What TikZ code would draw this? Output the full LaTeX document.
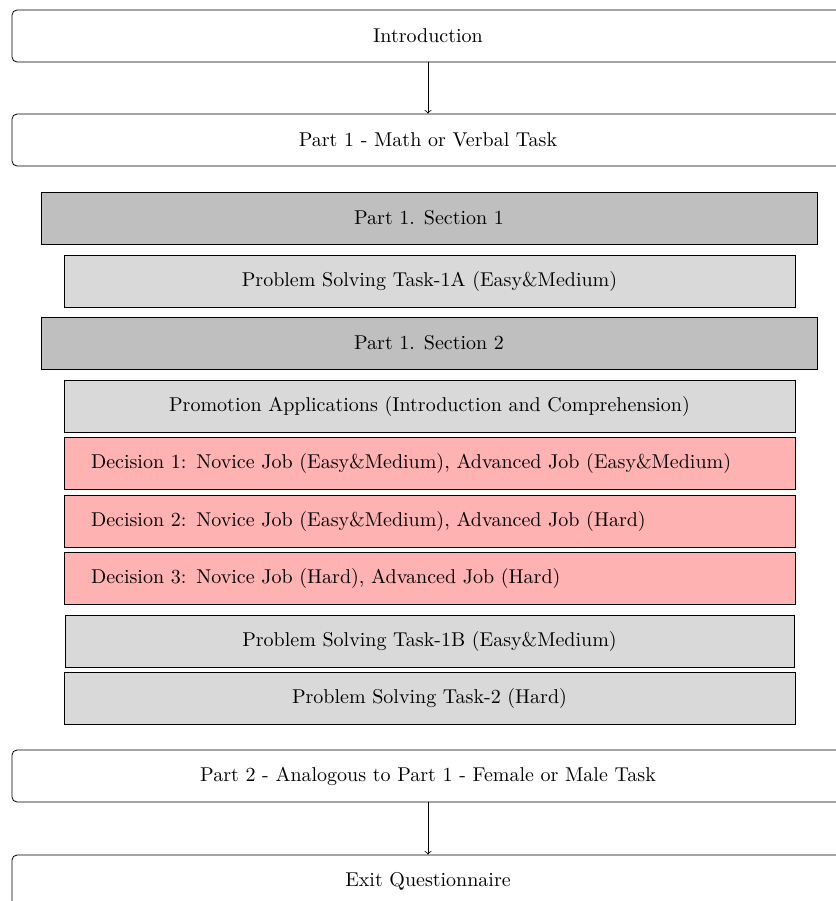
\documentclass[tikz,border=0pt]{standalone}
\begin{document}
\begin{tikzpicture}[x=0.5pt,y=-0.5pt,
  base/.style={draw, minimum height=26pt, inner sep=0pt, font=\normalsize},
  outer/.style={base, rounded corners=2.5pt, minimum width=416pt, fill=white},
  secbox/.style={base, minimum width=388pt, fill=gray!50},
  taskbox/.style={base, minimum width=365.5pt, fill=gray!30},
  decbox/.style={base, fill=red!30, text width=338.5pt, inner xsep=13.5pt, align=left},
  arr/.style={->, >=to}
]
\clip (0,0) rectangle (836,901);
\node[outer] (intro) at (428,36) {Introduction};
\node[outer] (part1) at (428,140) {Part 1 - Math or Verbal Task};
\node[secbox] (s1) at (429,218) {Part 1. Section 1};
\node[taskbox] (t1a) at (429.5,281) {Problem Solving Task-1A (Easy\&Medium)};
\node[secbox] (s2) at (429,343) {Part 1. Section 2};
\node[taskbox] (promo) at (429.5,406) {Promotion Applications (Introduction and Comprehension)};
\node[decbox] (d1) at (429.5,463) {Decision 1: Novice Job (Easy\&Medium), Advanced Job (Easy\&Medium)};
\node[decbox] (d2) at (429.5,521) {Decision 2: Novice Job (Easy\&Medium), Advanced Job (Hard)};
\node[decbox] (d3) at (429.5,578) {Decision 3: Novice Job (Hard), Advanced Job (Hard)};
\node[taskbox, minimum width=364.5pt] (t1b) at (429.5,641) {Problem Solving Task-1B (Easy\&Medium)};
\node[taskbox] (t2) at (429.5,698) {Problem Solving Task-2 (Hard)};
\node[outer] (part2) at (428,776) {Part 2 - Analogous to Part 1 - Female or Male Task};
\node[outer] (exit) at (428,881) {Exit Questionnaire};
\draw[arr] (intro) -- (part1);
\draw[arr] (part2) -- (exit);
\end{tikzpicture}
\end{document}
